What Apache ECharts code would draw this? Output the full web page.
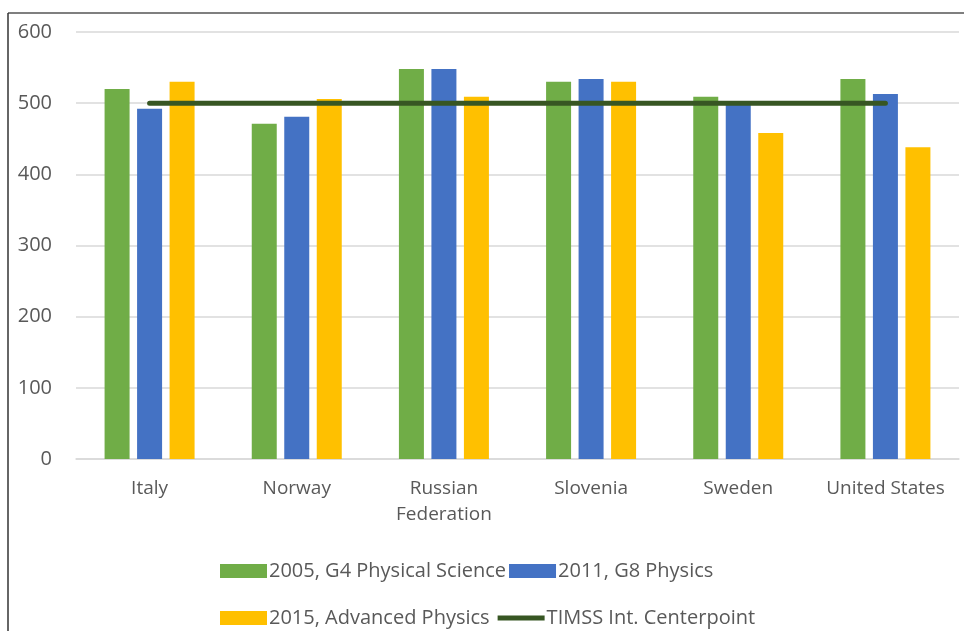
<!DOCTYPE html>
<html>
<head>
<meta charset="utf-8">
<script src="https://cdn.jsdelivr.net/npm/echarts@6/dist/echarts.min.js"></script>
<style>
  html, body { margin: 0; padding: 0; background: #fff; }
  #main { width: 964px; height: 631px; }
</style>
</head>
<body>
<div id="main"></div>
<script>
const countries = ['Italy', 'Norway', 'Russian\nFederation', 'Slovenia', 'Sweden', 'United States'];
const g4Physical2005 = [520, 471, 548, 530, 509, 534];
const g8Physics2011 = [492, 481, 548, 534, 500, 513];
const advPhysics2015 = [530, 506, 509, 530, 458, 438];
const centerpoint = [500, 500, 500, 500, 500, 500];
const yTicks = [0, 100, 200, 300, 400, 500, 600];

const textColor = '#595959';
const chart = echarts.init(document.getElementById('main'));

chart.setOption({
  animation: false,
  textStyle: { fontFamily: 'Open Sans' },
  graphic: [
    { type: 'line', shape: { x1: 8, y1: 13, x2: 964, y2: 13 }, style: { stroke: '#555', lineWidth: 1.5 } },
    { type: 'line', shape: { x1: 8, y1: 13, x2: 8, y2: 631 }, style: { stroke: '#333', lineWidth: 1.5 } }
  ],
  grid: { left: 76, right: 5, top: 32, bottom: 172 },
  legend: [
    {
      data: [
        { name: '2005, G4 Physical Science', icon: 'rect' },
        { name: '2011, G8 Physics', icon: 'rect' }
      ],
      top: 556, left: 215,
      itemWidth: 47, itemHeight: 14, itemGap: 3,
      textStyle: { color: textColor, fontSize: 20, padding: [0, 0, 0, -3] }
    },
    {
      data: [
        { name: '2015, Advanced Physics', icon: 'rect' },
        { name: 'TIMSS Int. Centerpoint', icon: 'path://M0,0 L47,0 L47,5 L0,5 Z' }
      ],
      top: 603, left: 215,
      itemWidth: 47, itemHeight: 14, itemGap: 8,
      textStyle: { color: textColor, fontSize: 20, padding: [0, 0, 0, -3] }
    }
  ],
  xAxis: {
    type: 'category',
    data: countries,
    axisLine: { lineStyle: { color: '#d9d9d9', width: 1.5 } },
    axisTick: { show: false },
    axisLabel: { color: textColor, fontSize: 19, margin: 17, lineHeight: 26, interval: 0 }
  },
  yAxis: {
    type: 'value',
    min: 0, max: 600, interval: 100,
    axisLabel: {
      color: textColor, fontSize: 20, margin: 24, align: 'right',
      formatter: v => yTicks.includes(v) ? String(v) : ''
    },
    axisLine: { show: false },
    splitLine: { lineStyle: { color: '#d9d9d9', width: 1.5 } }
  },
  series: [
    {
      name: '2005, G4 Physical Science', type: 'bar', data: g4Physical2005,
      barWidth: 25, barGap: '30%', itemStyle: { color: '#70ad47' }
    },
    {
      name: '2011, G8 Physics', type: 'bar', data: g8Physics2011,
      barWidth: 25, barGap: '30%', itemStyle: { color: '#4472c4' }
    },
    {
      name: '2015, Advanced Physics', type: 'bar', data: advPhysics2015,
      barWidth: 25, barGap: '30%', itemStyle: { color: '#ffc000' }
    },
    {
      name: 'TIMSS Int. Centerpoint', type: 'line', data: centerpoint,
      symbol: 'none', z: 5,
      lineStyle: { color: '#375623', width: 5, cap: 'round' },
      itemStyle: { color: '#375623' }
    }
  ]
});
</script>
</body>
</html>
